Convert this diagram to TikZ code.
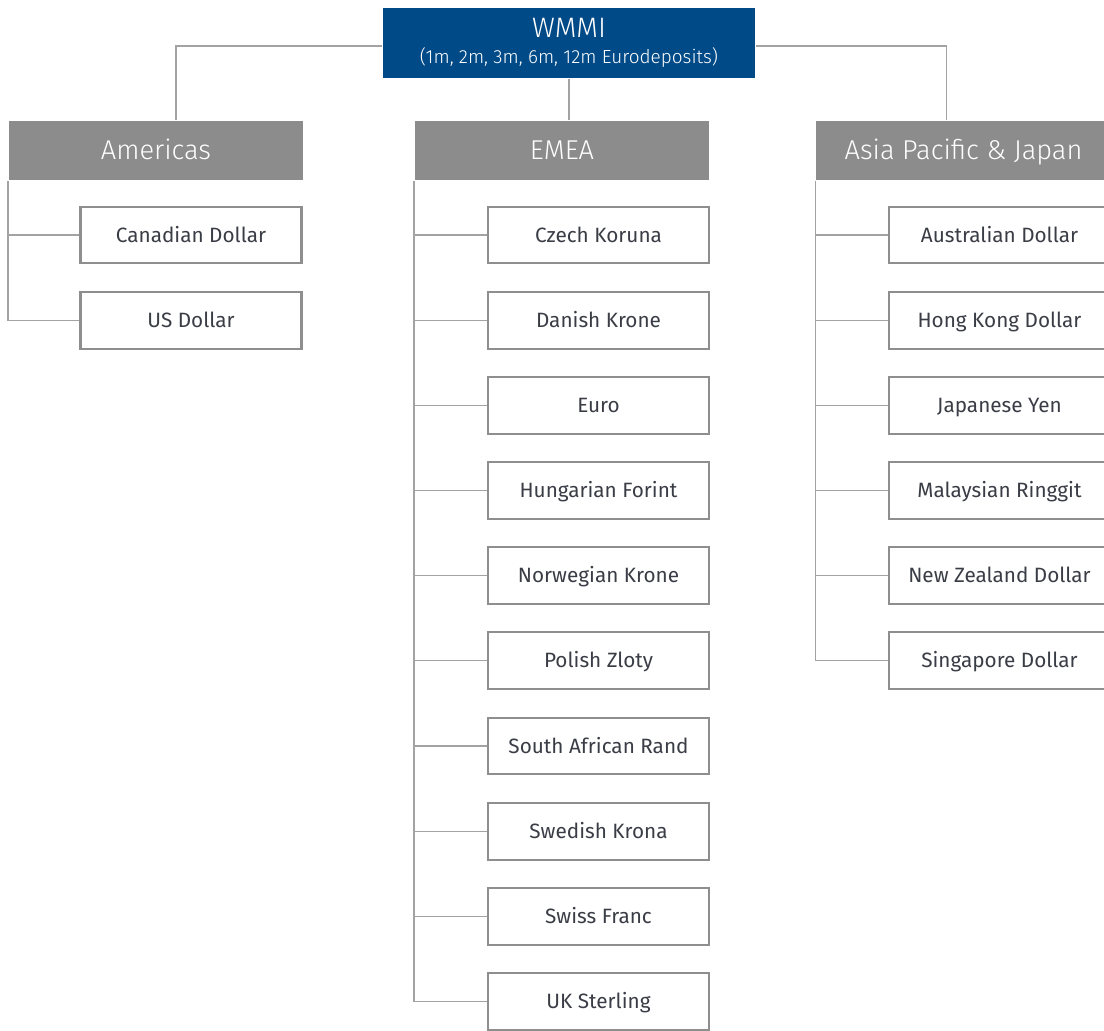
\documentclass[tikz,border=0pt]{standalone}
\usepackage{fontspec}
\setmainfont{Fira Sans}
\newfontfamily\headfont{Fira Sans Light}
\definecolor{wmblue}{HTML}{004A87}
\definecolor{headgray}{HTML}{8C8C8C}
\definecolor{boxgray}{HTML}{8E8E8E}
\definecolor{linegray}{HTML}{A3A3A3}
\definecolor{ccytext}{HTML}{3A3D45}
\begin{document}
\begin{tikzpicture}[
        x = 0.02cm,
        y = -0.02cm,
        line width = 0.7pt,
        every node/.style = {inner sep = 0pt},
        topbox/.style = {fill = wmblue, text = white, minimum width = 7.44cm, minimum height = 1.4cm, align = center},
        regionbox/.style = {fill = headgray, text = white, minimum width = 5.9cm, minimum height = 1.18cm,
            text height = 10.2pt, text depth = 0pt, font = \headfont\fontsize{15.5}{18}\selectfont},
        ccybox/.style = {draw = boxgray, line width = 1.4pt, fill = white, text = ccytext,
            minimum width = 4.42cm, minimum height = 1.13cm,
            text height = 8.4pt, text depth = 0pt, font = \fontsize{11.8}{14}\selectfont},
        link/.style = {draw = linegray}
    ]
        \useasboundingbox (0,0) rectangle (1104,1030);
        \clip (0,0) rectangle (1104,1030);
        % top and regions
        \node[topbox] (wmmi) at (569,43) {{\headfont\fontsize{16}{18}\selectfont WMMI}\\[3pt]{\headfont\fontsize{10.8}{12}\selectfont (1m, 2m, 3m, 6m, 12m Eurodeposits)}};
        \node[regionbox] (amer) at (156,150.5) {Americas};
        \node[regionbox] (emea) at (562,150.5) {EMEA};
        \node[regionbox] (apac) at (963.5,150.5) {Asia Pacific \& Japan};
        % Americas
        \node[ccybox] (cad) at (191,235) {Canadian Dollar};
        \node[ccybox] (usd) at (191,320.5) {US Dollar};
        % EMEA
        \node[ccybox] (czk) at (598.5,235) {Czech Koruna};
        \node[ccybox] (dkk) at (598.5,320.5) {Danish Krone};
        \node[ccybox] (eur) at (598.5,405.5) {Euro};
        \node[ccybox] (huf) at (598.5,490.5) {Hungarian Forint};
        \node[ccybox] (nok) at (598.5,575.5) {Norwegian Krone};
        \node[ccybox] (pln) at (598.5,660.5) {Polish Zloty};
        \node[ccybox] (zar) at (598.5,746) {South African Rand};
        \node[ccybox] (sek) at (598.5,831.5) {Swedish Krona};
        \node[ccybox] (chf) at (598.5,916.5) {Swiss Franc};
        \node[ccybox] (gbp) at (598.5,1001.5) {UK Sterling};
        % Asia Pacific
        \node[ccybox] (aud) at (999.5,235) {Australian Dollar};
        \node[ccybox] (hkd) at (999.5,320.5) {Hong Kong Dollar};
        \node[ccybox] (jpy) at (999.5,405.5) {Japanese Yen};
        \node[ccybox] (myr) at (999.5,490.5) {Malaysian Ringgit};
        \node[ccybox] (nzd) at (999.5,575.5) {New Zealand Dollar};
        \node[ccybox] (sgd) at (999.5,660.5) {Singapore Dollar};
        % connectors
        \draw[link] ([yshift = -0.06cm]wmmi.west) -| ([xshift = 0.4cm]amer.north);
        \draw[link] ([yshift = -0.06cm]wmmi.east) -| ([xshift = -0.34cm]apac.north);
        \draw[link] (wmmi.south) -- (wmmi.south |- emea.north);
        \draw[link] (amer.south west) |- (cad.west) (amer.south west) |- (usd.west);
        \draw[link] (emea.south west) |- (czk.west) (emea.south west) |- (dkk.west)
            (emea.south west) |- (eur.west) (emea.south west) |- (huf.west)
            (emea.south west) |- (nok.west) (emea.south west) |- (pln.west)
            (emea.south west) |- (zar.west) (emea.south west) |- (sek.west)
            (emea.south west) |- (chf.west) (emea.south west) |- (gbp.west);
        \draw[link] (apac.south west) |- (aud.west) (apac.south west) |- (hkd.west)
            (apac.south west) |- (jpy.west) (apac.south west) |- (myr.west)
            (apac.south west) |- (nzd.west) (apac.south west) |- (sgd.west);
    \end{tikzpicture}
\end{document}
